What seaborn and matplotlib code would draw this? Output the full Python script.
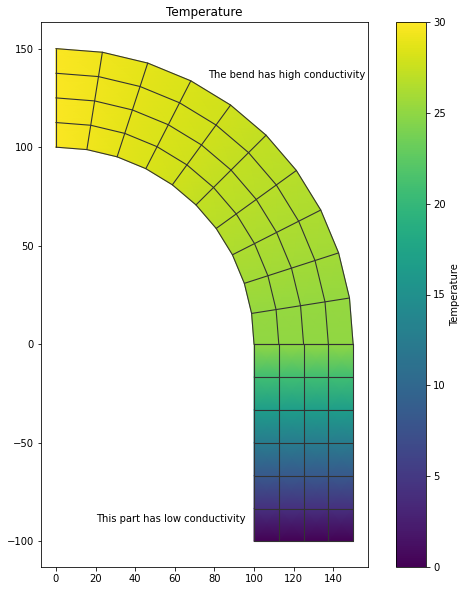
import numpy as np
import matplotlib
matplotlib.use("Agg")
import matplotlib.pyplot as plt
import seaborn as sns

# mesh stations
radii = [100, 112.5, 125, 137.5, 150]
bend_angles = [0, 9, 18, 27, 36, 45, 54, 63, 72, 81, 90]  # degrees from the y axis
straight_x = [100, 112.5, 125, 137.5, 150]
straight_y = [0, -16.67, -33.33, -50, -66.67, -83.33, -100]

# temperature at each station
bend_temp = [29.8, 29.3, 28.8, 28.3, 27.8, 27.3, 26.8, 26.3, 25.8, 25.3, 25.0]
straight_temp = [25.0, 20.8, 16.6, 12.5, 8.3, 4.2, 0.0]

sns.set_style("ticks", {"axes.edgecolor": "black", "text.color": "black",
                        "xtick.color": "black", "ytick.color": "black",
                        "axes.labelcolor": "black"})
cmap = sns.color_palette("viridis", as_cmap=True)

fig = plt.figure(figsize=(463 / 72, 590 / 72), dpi=72)
ax = fig.add_axes([41 / 463, 1 - 567 / 590, 327 / 463, 545 / 590])
cax = fig.add_axes([396 / 463, 1 - 567 / 590, 30 / 463, 545 / 590])

# bend part
r, a = np.meshgrid(radii, np.radians(bend_angles))
bx = r * np.sin(a)
by = r * np.cos(a)
bt = np.tile(np.array(bend_temp)[:, None], (1, len(radii)))
mesh = ax.pcolormesh(bx, by, bt, shading="gouraud", cmap=cmap, vmin=0, vmax=30)

# straight part
sx, sy = np.meshgrid(straight_x, straight_y)
st = np.tile(np.array(straight_temp)[:, None], (1, len(straight_x)))
ax.pcolormesh(sx, sy, st, shading="gouraud", cmap=cmap, vmin=0, vmax=30)

# element edges
for gx, gy in [(bx, by), (sx, sy)]:
    ax.plot(gx, gy, color="#333333", lw=1.1)
    ax.plot(gx.T, gy.T, color="#333333", lw=1.1)

ax.text(76.8, 135, "The bend has high conductivity", fontsize=10)
ax.text(20.2, -90, "This part has low conductivity", fontsize=10)

ax.set_title("Temperature", fontsize=12)
ax.set_xlim(-7.5, 157.5)
ax.set_ylim(-113, 163.5)
ax.set_xticks([0, 20, 40, 60, 80, 100, 120, 140])
ax.set_yticks([-100, -50, 0, 50, 100, 150])

cb = fig.colorbar(mesh, cax=cax)
cb.set_label("Temperature", fontsize=10)
cb.set_ticks([0, 5, 10, 15, 20, 25, 30])

fig.savefig("out.png", dpi=72, facecolor="white")
